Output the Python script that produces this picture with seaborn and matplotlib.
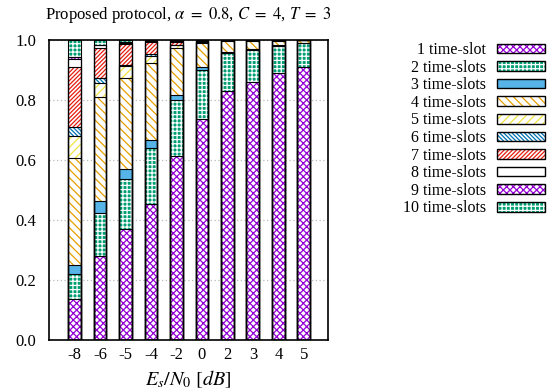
import numpy as np
import matplotlib
matplotlib.use("Agg")
import matplotlib.pyplot as plt
import matplotlib.patches as mpatches
from matplotlib.legend_handler import HandlerTuple
import seaborn as sns

categories = ['-8', '-6', '-5', '-4', '-2', '0', '2', '3', '4', '5']
slot1 = [0.137, 0.279, 0.369, 0.454, 0.614, 0.738, 0.829, 0.860, 0.889, 0.909]
slot2 = [0.082, 0.144, 0.168, 0.185, 0.186, 0.162, 0.128, 0.108, 0.091, 0.080]
slot3 = [0.032, 0.040, 0.034, 0.028, 0.018, 0.009, 0.003, 0.002, 0.002, 0.001]
slot4 = [0.357, 0.346, 0.304, 0.256, 0.156, 0.082, 0.037, 0.027, 0.016, 0.009]
slot5 = [0.071, 0.049, 0.039, 0.023, 0.008, 0.004, 0.002, 0.002, 0.001, 0.001]
slot6 = [0.030, 0.014, 0.003, 0.009, 0.002, 0.001, 0.001, 0.001, 0.001, 0.000]
slot7 = [0.202, 0.102, 0.068, 0.038, 0.010, 0.001, 0.000, 0.000, 0.000, 0.000]
slot8 = [0.026, 0.008, 0.005, 0.002, 0.003, 0.001, 0.000, 0.000, 0.000, 0.000]
slot9 = [0.006, 0.003, 0.003, 0.001, 0.001, 0.001, 0.000, 0.000, 0.000, 0.000]
slot10 = [0.057, 0.015, 0.007, 0.004, 0.002, 0.001, 0.000, 0.000, 0.000, 0.000]
series_labels = ['1 time-slot', '2 time-slots', '3 time-slots', '4 time-slots',
                 '5 time-slots', '6 time-slots', '7 time-slots', '8 time-slots',
                 '9 time-slots', '10 time-slots']
yticks = [0.0, 0.2, 0.4, 0.6, 0.8, 1.0]

series = [slot1, slot2, slot3, slot4, slot5, slot6, slot7, slot8, slot9, slot10]

# style per series: (facecolor, hatch, hatchcolor)
styles = [
    ('white', 'xxxxx', '#9400D3'),
    ('#009E73', '++++', 'white'),
    ('#56B4E9', None, '#56B4E9'),
    ('white', '\\\\\\\\', '#E69F00'),
    ('white', '////', '#F0E442'),
    ('white', '\\' * 8, '#0072B2'),
    ('white', '/' * 8, '#E51E10'),
    ('white', None, 'white'),
    ('white', 'xxxxx', '#9400D3'),
    ('#009E73', '++++', 'white'),
]

plt.rcParams['font.family'] = ['Liberation Serif', 'DejaVu Serif']
plt.rcParams['mathtext.fontset'] = 'stix'
plt.rcParams['hatch.linewidth'] = 0.9

fig = plt.figure(figsize=(5.57, 3.89), dpi=100)
ax = fig.add_axes([49 / 557, 1 - 340 / 389, (328 - 49) / 557, 300 / 389])

cum = np.cumsum(np.array(series), axis=0)
W = 0.5

# filled layers, drawn from the top cumulative down
for k in range(len(series) - 1, -1, -1):
    n0 = len(ax.patches)
    sns.barplot(x=categories, y=cum[k], order=categories, color='white',
                width=W, ax=ax, zorder=2)
    fc, h, hc = styles[k]
    for p in ax.patches[n0:]:
        p.set_facecolor(fc)
        p.set_hatch(h)
        p.set_edgecolor(hc)
        p.set_linewidth(0)

# segment outlines
for k in range(len(series)):
    sns.barplot(x=categories, y=cum[k], order=categories, color='black',
                fill=False, width=W, ax=ax, linewidth=0.8, zorder=3)

ax.set_xlim(-1.0, 9.95)
ax.set_ylim(0, 1.0)
ax.set_yticks(yticks)
ax.set_yticklabels([f'{v:.1f}' for v in yticks])
ax.tick_params(axis='both', length=0, labelsize=12)
ax.tick_params(axis='y', pad=9)
ax.tick_params(axis='x', pad=5)
ax.grid(axis='y', color='#bbbbbb', linestyle=(0, (1, 2)), linewidth=0.9, zorder=0)
ax.set_axisbelow(True)
for s in ax.spines.values():
    s.set_linewidth(1.2)
    s.set_color('black')

ax.set_xlabel(r'$E_s/N_0\ [dB]$', fontsize=14.5, labelpad=4)
ax.set_ylabel('')
ax.set_title(r'Proposed protocol, $\alpha\ =\ 0.8$, $C\ =\ 4$, $T\ =\ 3$', fontsize=12, pad=15)

handles = []
for fc, h, hc in styles:
    p1 = mpatches.Patch(facecolor=fc, hatch=h, edgecolor=hc, linewidth=0)
    p2 = mpatches.Patch(fill=False, edgecolor='black', linewidth=1.0)
    handles.append((p1, p2))

leg = fig.legend(handles, series_labels, loc='upper left',
                 bbox_to_anchor=(403 / 557, 1 - 42 / 389),
                 markerfirst=False, frameon=False, fontsize=11.5,
                 handler_map={tuple: HandlerTuple(ndivide=1, pad=0)},
                 handlelength=3.0, handleheight=0.55, labelspacing=0.1,
                 handletextpad=0.7, borderpad=0, borderaxespad=0)

fig.savefig('out.png', dpi=100)
